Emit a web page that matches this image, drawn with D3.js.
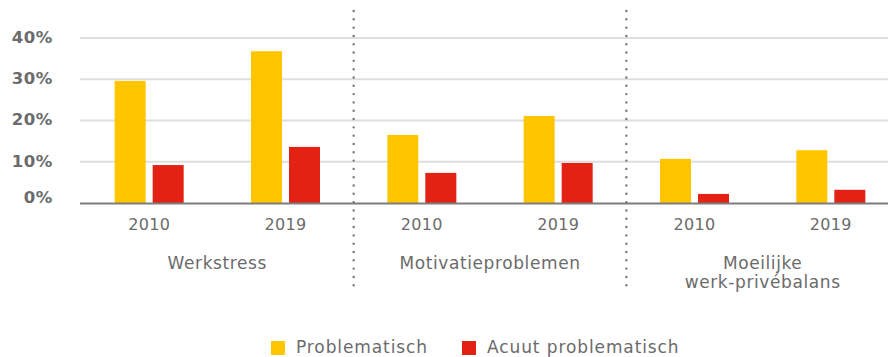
<!DOCTYPE html>
<html>
<head>
<meta charset="utf-8">
<script src="https://cdn.jsdelivr.net/npm/d3@7"></script>
<style>
  html, body { margin: 0; padding: 0; background: #fff; }
  svg { display: block; }
  text { font-family: "DejaVu Sans", sans-serif; fill: #6b6b6b; }
</style>
</head>
<body>
<svg id="chart" width="888" height="357"></svg>
<script>
// Categories (multi-line labels split on "\n"), years and series values in %
const categories = ["Werkstress", "Motivatieproblemen", "Moeilijke\nwerk-privébalans"];
const years = ["2010", "2019"];
const problematisch = [29.6, 36.8, 16.5, 21.1, 10.7, 12.8];
const acuutProblematisch = [9.2, 13.6, 7.3, 9.7, 2.2, 3.2];
const seriesNames = ["Problematisch", "Acuut problematisch"];
const seriesColors = ["#ffc600", "#e32213"];
const yTicks = [0, 10, 20, 30, 40];

// One row per category/year group
const groups = [];
categories.forEach((c, ci) => years.forEach((y, yi) => {
  const i = ci * years.length + yi;
  groups.push({ key: c + "|" + y, category: c, year: y,
    values: [problematisch[i], acuutProblematisch[i]] });
}));

const svg = d3.select("#chart");
const plotLeft = 80, plotRight = 888;

const y = d3.scaleLinear().domain([0, 40]).range([203, 38]);
const x0 = d3.scaleBand().domain(groups.map(g => g.key)).range([81, 899]).padding(0);
const pairWidth = 69;
const x1 = d3.scaleBand().domain(seriesNames)
  .range([(x0.bandwidth() - pairWidth) / 2, (x0.bandwidth() + pairWidth) / 2])
  .paddingInner(0.184).paddingOuter(0);
const color = d3.scaleOrdinal().domain(seriesNames).range(seriesColors);

// Gridlines
svg.append("g").selectAll("line").data(yTicks.filter(t => t > 0)).join("line")
  .attr("x1", plotLeft).attr("x2", plotRight)
  .attr("y1", d => y(d)).attr("y2", d => y(d))
  .attr("stroke", "#dedede").attr("stroke-width", 2);

// Y tick labels
svg.append("g").selectAll("text").data(yTicks).join("text")
  .attr("x", 53).attr("y", d => d === 0 ? y(d) - 6 : y(d) - 1)
  .attr("dy", "0.36em")
  .attr("text-anchor", "end")
  .attr("font-weight", "bold").attr("font-size", 16.5)
  .attr("letter-spacing", 0.6)
  .text(d => d + "%");

// Bars
const g = svg.append("g").selectAll("g").data(groups).join("g")
  .attr("transform", d => `translate(${x0(d.key)},0)`);
g.selectAll("rect").data(d => d.values.map((v, i) => ({ s: seriesNames[i], v })))
  .join("rect")
  .attr("x", d => x1(d.s)).attr("width", x1.bandwidth())
  .attr("y", d => y(d.v)).attr("height", d => y(0) - y(d.v))
  .attr("fill", d => color(d.s));

// Baseline
svg.append("line").attr("x1", plotLeft).attr("x2", plotRight)
  .attr("y1", y(0) + 0.5).attr("y2", y(0) + 0.5)
  .attr("stroke", "#7d7d7d").attr("stroke-width", 2);

// Year labels
g.append("text")
  .attr("x", x0.bandwidth() / 2).attr("y", 230)
  .attr("text-anchor", "middle").attr("font-size", 16)
  .attr("letter-spacing", 0.3)
  .text(d => d.year);

// Category labels and dotted dividers
const catWidth = x0.step() * years.length;
categories.forEach((c, ci) => {
  const left = x0(c + "|" + years[0]);
  const lines = c.split("\n");
  const t = svg.append("text")
    .attr("x", left + catWidth / 2).attr("y", 269)
    .attr("text-anchor", "middle").attr("font-size", 17)
    .attr("letter-spacing", 0.6);
  lines.forEach((ln, li) => t.append("tspan")
    .attr("x", left + catWidth / 2).attr("dy", li === 0 ? 0 : 19).text(ln));
  if (ci > 0) {
    svg.append("line")
      .attr("x1", left).attr("x2", left).attr("y1", 11).attr("y2", 287)
      .attr("stroke", "#777").attr("stroke-width", 2.4)
      .attr("stroke-linecap", "round").attr("stroke-dasharray", "0.01 8.3");
  }
});

// Legend
const legendItems = [{ x: 271, name: seriesNames[0] }, { x: 462, name: seriesNames[1] }];
const lg = svg.append("g").selectAll("g").data(legendItems).join("g")
  .attr("transform", d => `translate(${d.x},341)`);
lg.append("rect").attr("width", 14).attr("height", 14).attr("fill", d => color(d.name));
lg.append("text").attr("x", 25).attr("y", 12).attr("font-size", 17)
  .attr("letter-spacing", 0.9).text(d => d.name);
</script>
</body>
</html>
